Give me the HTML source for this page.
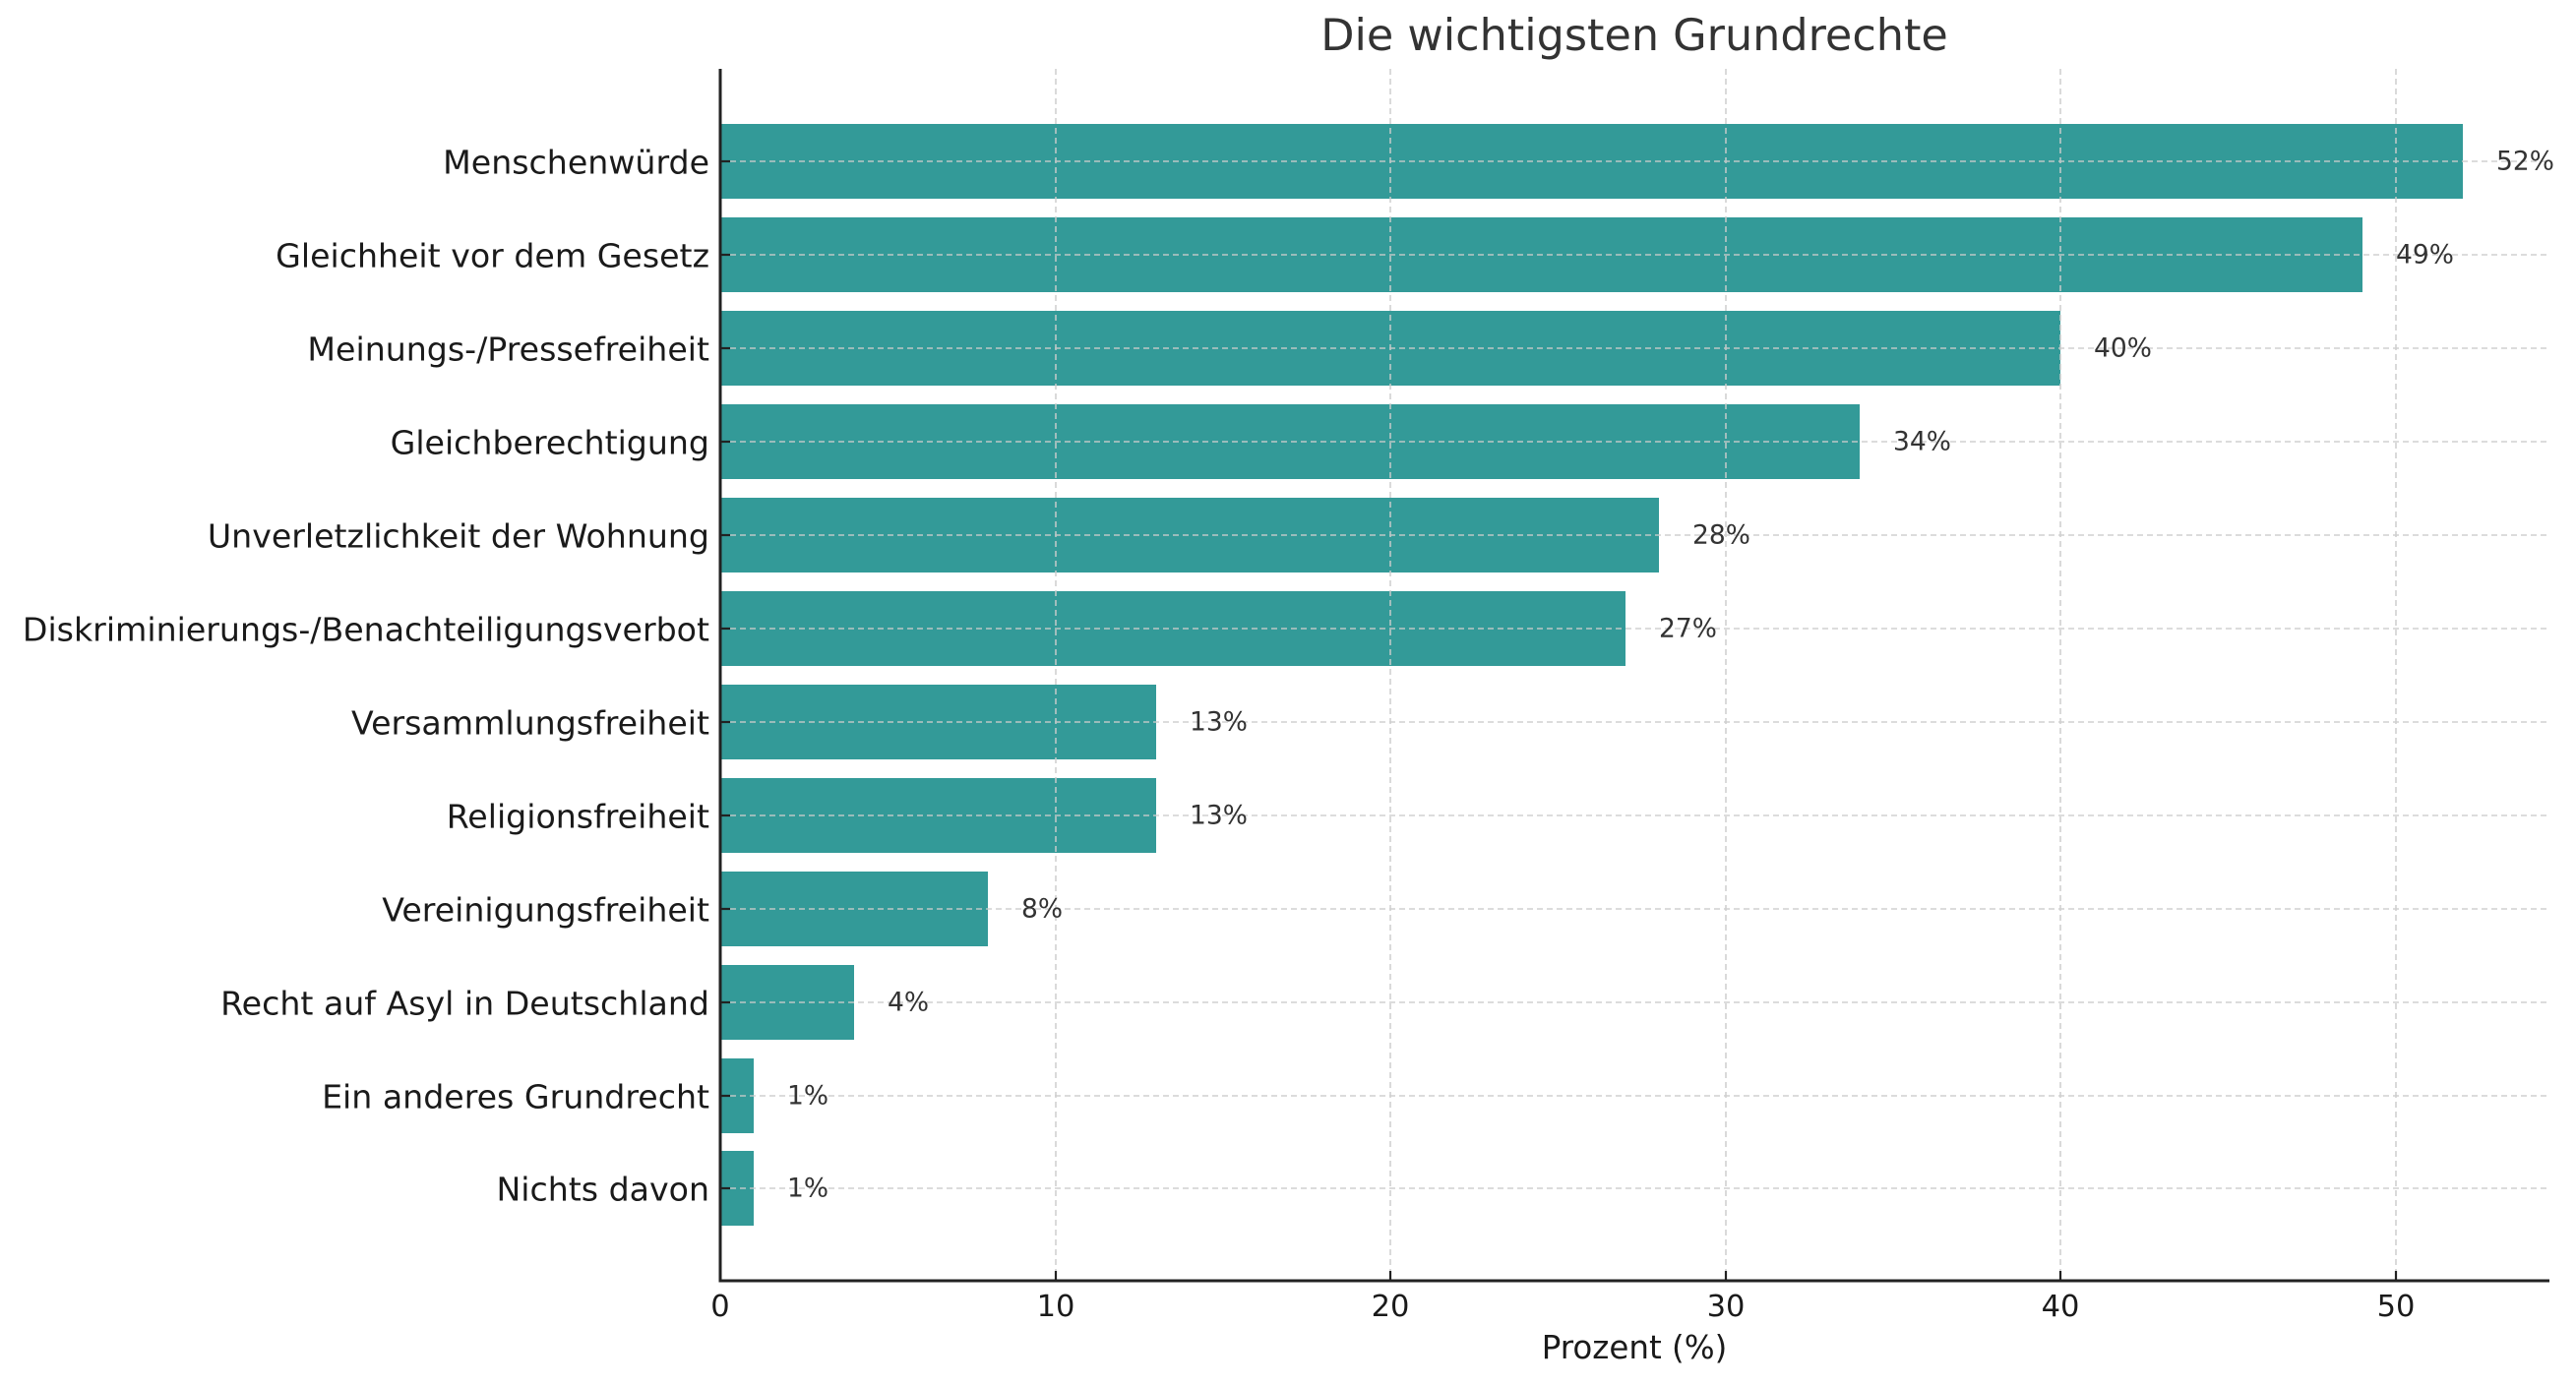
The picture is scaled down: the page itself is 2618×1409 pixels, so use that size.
<!DOCTYPE html>
<html><head><meta charset="utf-8"><style>
html,body{margin:0;padding:0;background:#fff;}
svg{display:block;font-family:"DejaVu Sans","Liberation Sans",sans-serif;}
</style></head><body>
<svg width="2618" height="1409" viewBox="0 0 2618 1409" xmlns="http://www.w3.org/2000/svg">
<rect width="2618" height="1409" fill="#fff"/>
<g fill="#339a98">
<rect x="732" y="126" width="1771" height="76"/>
<rect x="732" y="221" width="1669" height="76"/>
<rect x="732" y="316" width="1362" height="76"/>
<rect x="732" y="411" width="1158" height="76"/>
<rect x="732" y="506" width="954" height="76"/>
<rect x="732" y="601" width="920" height="76"/>
<rect x="732" y="696" width="443" height="76"/>
<rect x="732" y="791" width="443" height="76"/>
<rect x="732" y="886" width="272" height="76"/>
<rect x="732" y="981" width="136" height="76"/>
<rect x="732" y="1076" width="34" height="76"/>
<rect x="732" y="1170" width="34" height="76"/>
</g>
<g stroke="#cccccc" stroke-width="1.6" stroke-dasharray="6,4" fill="none" opacity="0.9">
<line x1="1073" y1="70" x2="1073" y2="1302"/>
<line x1="1413" y1="70" x2="1413" y2="1302"/>
<line x1="1754" y1="70" x2="1754" y2="1302"/>
<line x1="2094" y1="70" x2="2094" y2="1302"/>
<line x1="2435" y1="70" x2="2435" y2="1302"/>
<line x1="732" y1="164" x2="2591" y2="164"/>
<line x1="732" y1="259" x2="2591" y2="259"/>
<line x1="732" y1="354" x2="2591" y2="354"/>
<line x1="732" y1="449" x2="2591" y2="449"/>
<line x1="732" y1="544" x2="2591" y2="544"/>
<line x1="732" y1="639" x2="2591" y2="639"/>
<line x1="732" y1="734" x2="2591" y2="734"/>
<line x1="732" y1="829" x2="2591" y2="829"/>
<line x1="732" y1="924" x2="2591" y2="924"/>
<line x1="732" y1="1019" x2="2591" y2="1019"/>
<line x1="732" y1="1114" x2="2591" y2="1114"/>
<line x1="732" y1="1208" x2="2591" y2="1208"/>
</g>
<g stroke="#222" stroke-width="3" fill="none">
<line x1="732" y1="70" x2="732" y2="1303.5"/>
<line x1="730.5" y1="1302" x2="2591" y2="1302"/>
</g>
<g stroke="#222" stroke-width="2.2">
<line x1="732" y1="1302" x2="732" y2="1292"/>
<line x1="1073" y1="1302" x2="1073" y2="1292"/>
<line x1="1413" y1="1302" x2="1413" y2="1292"/>
<line x1="1754" y1="1302" x2="1754" y2="1292"/>
<line x1="2094" y1="1302" x2="2094" y2="1292"/>
<line x1="2435" y1="1302" x2="2435" y2="1292"/>
<line x1="732" y1="164" x2="742" y2="164"/><line x1="732" y1="259" x2="742" y2="259"/>
<line x1="732" y1="354" x2="742" y2="354"/><line x1="732" y1="449" x2="742" y2="449"/>
<line x1="732" y1="544" x2="742" y2="544"/><line x1="732" y1="639" x2="742" y2="639"/>
<line x1="732" y1="734" x2="742" y2="734"/><line x1="732" y1="829" x2="742" y2="829"/>
<line x1="732" y1="924" x2="742" y2="924"/><line x1="732" y1="1019" x2="742" y2="1019"/>
<line x1="732" y1="1114" x2="742" y2="1114"/><line x1="732" y1="1208" x2="742" y2="1208"/>
</g>
<g font-size="33.2" fill="#1a1a1a" text-anchor="end" dominant-baseline="central">
<text x="721" y="165">Menschenwürde</text>
<text x="721" y="260">Gleichheit vor dem Gesetz</text>
<text x="721" y="355">Meinungs-/Pressefreiheit</text>
<text x="721" y="450">Gleichberechtigung</text>
<text x="721" y="545">Unverletzlichkeit der Wohnung</text>
<text x="721" y="640">Diskriminierungs-/Benachteiligungsverbot</text>
<text x="721" y="735">Versammlungsfreiheit</text>
<text x="721" y="830">Religionsfreiheit</text>
<text x="721" y="925">Vereinigungsfreiheit</text>
<text x="721" y="1020">Recht auf Asyl in Deutschland</text>
<text x="721" y="1115">Ein anderes Grundrecht</text>
<text x="721" y="1209">Nichts davon</text>
</g>
<g font-size="26.5" fill="#333" dominant-baseline="central">
<text x="2537" y="164">52%</text>
<text x="2435" y="259">49%</text>
<text x="2128" y="354">40%</text>
<text x="1924" y="449">34%</text>
<text x="1720" y="544">28%</text>
<text x="1686" y="639">27%</text>
<text x="1209" y="734">13%</text>
<text x="1209" y="829">13%</text>
<text x="1038" y="924">8%</text>
<text x="902" y="1019">4%</text>
<text x="800" y="1114">1%</text>
<text x="800" y="1208">1%</text>
</g>
<g font-size="30.5" fill="#1a1a1a" text-anchor="middle">
<text x="732" y="1338">0</text>
<text x="1073" y="1338">10</text>
<text x="1413" y="1338">20</text>
<text x="1754" y="1338">30</text>
<text x="2094" y="1338">40</text>
<text x="2435" y="1338">50</text>
</g>
<text x="1661" y="1381" font-size="32.5" fill="#1a1a1a" text-anchor="middle">Prozent (%)</text>
<text x="1661" y="51" font-size="44.5" fill="#333" text-anchor="middle">Die wichtigsten Grundrechte</text>
</svg>
</body></html>
